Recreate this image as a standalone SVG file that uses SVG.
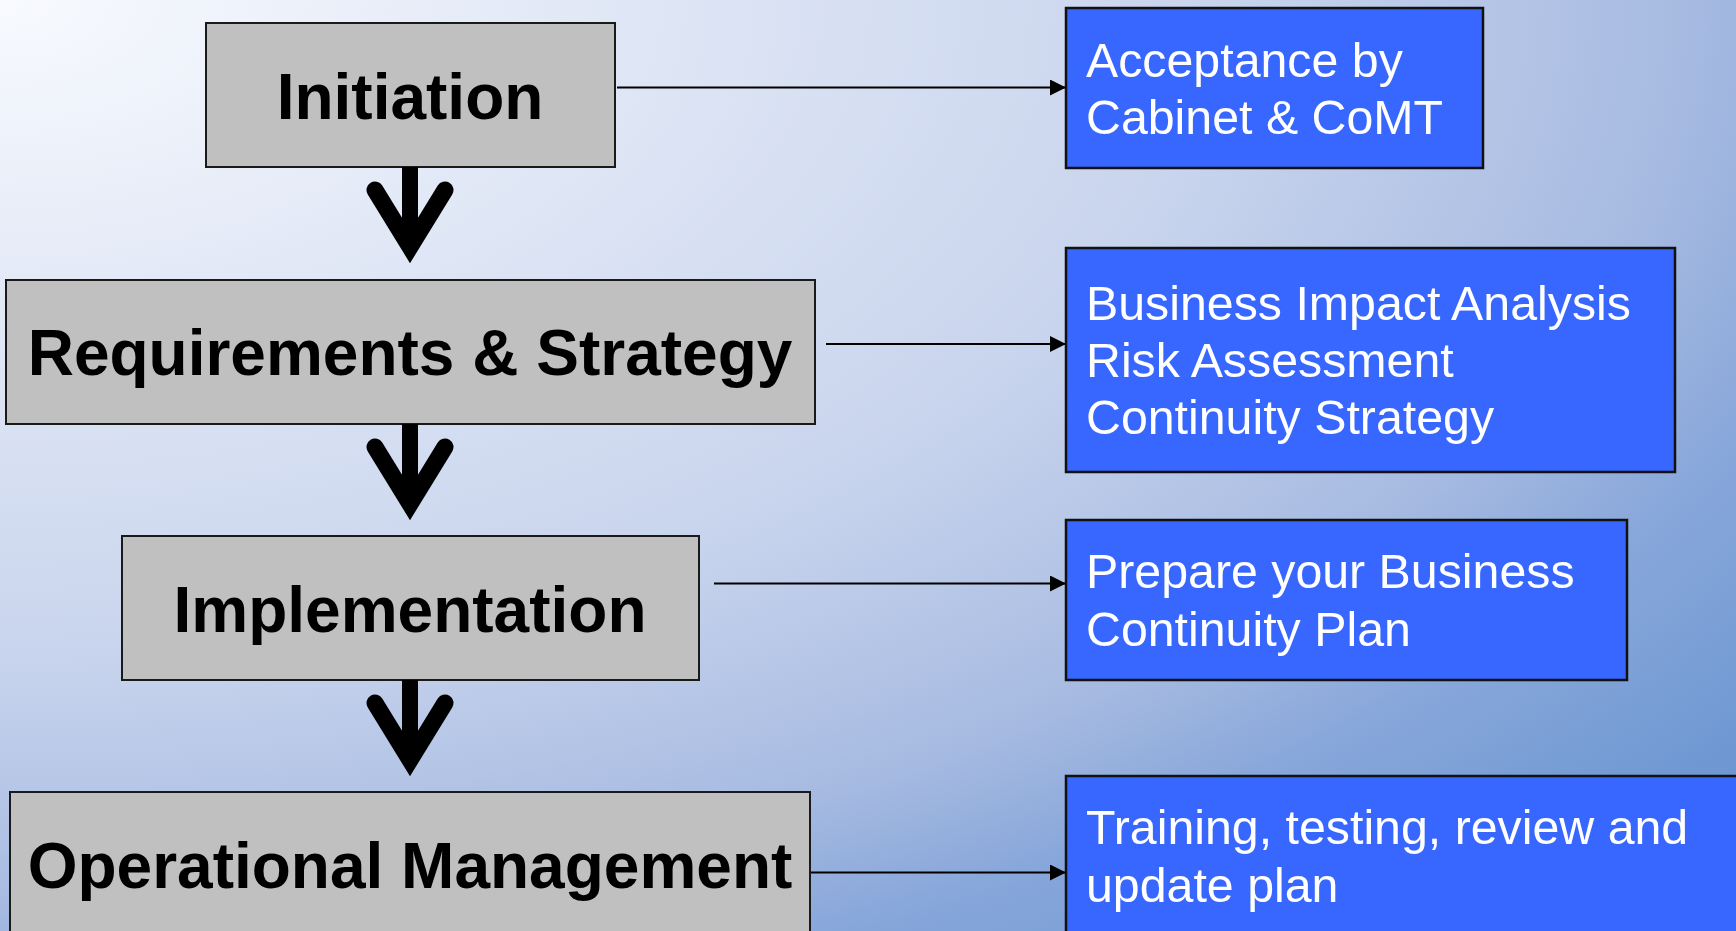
<svg xmlns="http://www.w3.org/2000/svg" xmlns:xlink="http://www.w3.org/1999/xlink" width="1736" height="931" viewBox="0 0 1736 931">
  <defs>
    <radialGradient id="bg" gradientUnits="objectBoundingBox" cx="0" cy="0" fx="0" fy="0" r="1.414">
      <stop offset="0" stop-color="#F8FAFE"/>
      <stop offset="0.5" stop-color="#C8D4ED"/>
      <stop offset="0.69" stop-color="#A6BAE1"/>
      <stop offset="0.78" stop-color="#88A7DA"/>
      <stop offset="0.9" stop-color="#7099D3"/>
      <stop offset="1" stop-color="#6893D0"/>
    </radialGradient>
    <marker id="tri" markerUnits="userSpaceOnUse" markerWidth="16" markerHeight="16" refX="16" refY="8" orient="auto">
      <path d="M0,0 L16,8 L0,16 Z" fill="#000"/>
    </marker>
    <!-- heavy down arrow, origin at the bottom edge of the upper box -->
    <g id="down">
      <line x1="0" y1="0" x2="0" y2="80" stroke="#000" stroke-width="16"/>
      <polyline points="-35,23 0,80 35,23" fill="none" stroke="#000" stroke-width="17" stroke-linecap="round" stroke-linejoin="miter" stroke-miterlimit="6"/>
    </g>
  </defs>
  <style>
    .step { fill: #C0C0C0; stroke: #1A1A1A; stroke-width: 2; }
    .step-label { font-family: "Liberation Sans", Arial, sans-serif; font-weight: bold; font-size: 64px; fill: #000; text-anchor: middle; }
    .out { fill: #3767FF; stroke: #111; stroke-width: 2.5; }
    .out-label { font-family: "Liberation Sans", Arial, sans-serif; font-size: 48.3px; fill: #FFF; }
    .link { stroke: #000; stroke-width: 2; fill: none; marker-end: url(#tri); }
  </style>

  <rect x="0" y="0" width="1736" height="931" fill="url(#bg)"/>

  <!-- process steps -->
  <g id="step-initiation">
    <rect class="step" x="206" y="23" width="409" height="144"/>
    <text class="step-label" x="410" y="119">Initiation</text>
  </g>
  <g id="step-requirements">
    <rect class="step" x="6" y="280" width="809" height="144"/>
    <text class="step-label" x="410" y="375">Requirements &amp; Strategy</text>
  </g>
  <g id="step-implementation">
    <rect class="step" x="122" y="536" width="577" height="144"/>
    <text class="step-label" x="410" y="632">Implementation</text>
  </g>
  <g id="step-operational">
    <rect class="step" x="10" y="792" width="800" height="160"/>
    <text class="step-label" x="410" y="888">Operational Management</text>
  </g>

  <!-- outputs of each step -->
  <g id="out-acceptance">
    <rect class="out" x="1066" y="8" width="417" height="160"/>
    <text class="out-label" x="1086" y="77">Acceptance by</text>
    <text class="out-label" x="1086" y="134">Cabinet &amp; CoMT</text>
  </g>
  <g id="out-analysis">
    <rect class="out" x="1066" y="248" width="609" height="224"/>
    <text class="out-label" x="1086" y="320">Business Impact Analysis</text>
    <text class="out-label" x="1086" y="377">Risk Assessment</text>
    <text class="out-label" x="1086" y="434">Continuity Strategy</text>
  </g>
  <g id="out-plan">
    <rect class="out" x="1066" y="520" width="561" height="160"/>
    <text class="out-label" x="1086" y="588">Prepare your Business</text>
    <text class="out-label" x="1086" y="646">Continuity Plan</text>
  </g>
  <g id="out-maintenance">
    <rect class="out" x="1066" y="776" width="700" height="200"/>
    <text class="out-label" x="1086" y="844">Training, testing, review and</text>
    <text class="out-label" x="1086" y="902">update plan</text>
  </g>

  <!-- connectors -->
  <g id="connectors">
    <use xlink:href="#down" x="410" y="167"/>
    <use xlink:href="#down" x="410" y="424"/>
    <use xlink:href="#down" x="410" y="680"/>
    <line class="link" x1="617" y1="87.5" x2="1066" y2="87.5"/>
    <line class="link" x1="826" y1="344" x2="1066" y2="344"/>
    <line class="link" x1="714" y1="583.5" x2="1066" y2="583.5"/>
    <line class="link" x1="811" y1="872.5" x2="1066" y2="872.5"/>
  </g>
</svg>
